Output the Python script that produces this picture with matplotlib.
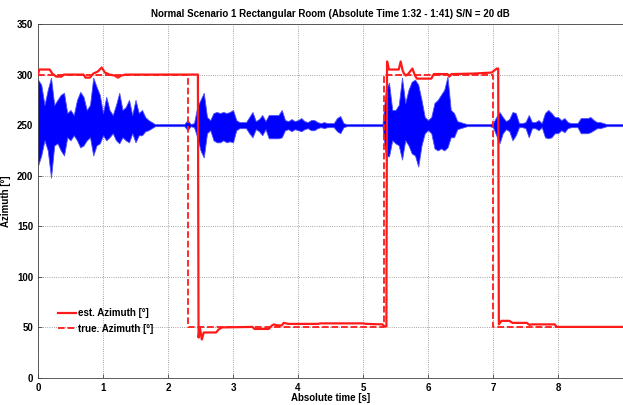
import numpy as np
import matplotlib
matplotlib.use("Agg")
import matplotlib.pyplot as plt

plt.rcParams['font.family'] = ['Liberation Sans', 'DejaVu Sans']
plt.rcParams['font.weight'] = 'bold'

wave_t = np.arange(181) * 0.05
wave_hi = [45, 40, 20, 35, 47, 20, 25, 30, 32, 12,
           15, 10, 25, 33, 28, 15, 20, 47, 38, 30,
           12, 28, 15, 10, 20, 32, 15, 18, 25, 10,
           25, 12, 15, 8, 5, 3, 1, 1, 1, 1,
           1, 1, 1, 1, 1, 1, 5, 1, 2, 18,
           25, 32, 8, 5, 12, 13, 12, 13, 12, 13,
           15, 5, 3, 3, 3, 8, 13, 4, 6, 10,
           4, 10, 10, 10, 10, 15, 5, 4, 6, 4,
           5, 7, 4, 3, 5, 5, 3, 2, 3, 2,
           2, 2, 7, 9, 2, 1, 1, 1, 1, 1,
           1, 1, 1, 1, 1, 1, 1, 35, 42, 15,
           15, 20, 47, 22, 35, 43, 45, 40, 25, 8,
           5, 8, 22, 25, 30, 35, 48, 15, 12, 4,
           3, 2, 1, 1, 1, 1, 1, 1, 1, 1,
           2, 8, 13, 8, 4, 6, 13, 12, 2, 2,
           3, 10, 3, 3, 5, 2, 12, 15, 12, 8,
           8, 5, 7, 3, 2, 2, 2, 7, 7, 7,
           8, 5, 3, 3, 2, 1, 1, 1, 1, 1,
           1]
wave_lo = [40, 30, 15, 25, 52, 20, 18, 25, 30, 12,
           15, 10, 15, 22, 20, 15, 12, 30, 20, 18,
           10, 15, 12, 8, 15, 18, 12, 15, 17, 8,
           17, 10, 10, 6, 5, 3, 1, 1, 1, 1,
           1, 1, 1, 1, 1, 1, 5, 1, 2, 12,
           25, 32, 8, 5, 15, 17, 17, 15, 17, 16,
           17, 5, 3, 3, 3, 8, 12, 4, 6, 10,
           4, 13, 13, 13, 13, 12, 5, 4, 6, 4,
           5, 6, 4, 3, 5, 5, 3, 2, 3, 2,
           2, 2, 6, 8, 2, 1, 1, 1, 1, 1,
           1, 1, 1, 1, 1, 1, 1, 30, 31, 15,
           18, 20, 34, 15, 20, 28, 30, 41, 20, 8,
           5, 8, 23, 25, 23, 25, 22, 12, 12, 4,
           3, 2, 1, 1, 1, 1, 1, 1, 1, 1,
           2, 10, 18, 8, 4, 6, 15, 10, 2, 2,
           3, 12, 3, 3, 5, 2, 12, 13, 12, 8,
           8, 5, 7, 3, 2, 2, 2, 8, 8, 8,
           7, 5, 3, 3, 2, 1, 1, 1, 1, 1,
           1]
wave_center = 250

# estimated azimuth
est_t = [0.00, 0.02, 0.18, 0.22, 0.28, 0.36, 0.40, 0.70, 0.73, 0.80, 0.85, 0.92,
         0.98, 1.03, 1.10, 1.18, 1.23, 1.28, 1.35, 2.00, 2.46, 2.47, 2.49, 2.52,
         2.55, 2.74, 2.78, 2.83, 3.30, 3.33, 3.55, 3.60, 3.63, 3.68, 3.75, 3.78,
         3.85, 4.30, 4.35, 5.00, 5.05, 5.30, 5.33, 5.36, 5.37, 5.40, 5.55, 5.58,
         5.61, 5.63, 5.66, 5.70, 5.76, 5.80, 5.83, 6.05, 6.09, 6.30, 6.33, 6.36,
         6.70, 6.98, 7.06, 7.08, 7.09, 7.13, 7.25, 7.30, 7.52, 7.56, 7.60, 7.95,
         7.98, 9.00]
est_az = [300, 305, 305, 301, 298, 298, 300, 300, 297, 297, 301, 303,
          307, 302, 300, 299, 297, 299, 300, 300, 300, 40, 50, 38,
          45, 45, 48, 50, 50.5, 48.5, 48.5, 52, 53, 52, 52, 54.5,
          53.5, 53.5, 54, 54, 53.5, 53, 51, 51, 313, 305, 305, 313,
          304, 301, 299, 301, 306, 299, 296, 296, 300.5, 300.5, 298, 300.5,
          301, 302, 306, 306, 53, 56.5, 56.5, 54.5, 54.5, 52.5, 53, 53,
          50.5, 50.5]

# true azimuth (steps)
true_t = [0, 2.30, 5.33, 7.00, 9.0]
true_az = [300, 50, 300, 50, 50]

fig = plt.figure(figsize=(6.23, 4.05), dpi=100)
ax = fig.add_axes([0.061, 0.0667, 0.939, 0.874])

hi = wave_center + np.array(wave_hi)
lo = wave_center - np.array(wave_lo)
ax.fill_between(wave_t, lo, hi, color='#0000ff', lw=0.6, edgecolor='#5050ff', zorder=2)
ax.plot(wave_t, np.full(len(wave_t), wave_center), color='#0000ff', lw=0.8, zorder=2)

ax.plot(est_t, est_az, color='#ff1a1a', lw=1.6, label='est. Azimuth [°]', zorder=3)
ax.plot(true_t, true_az, color='#ff1a1a', lw=1.3, ls='--', drawstyle='steps-post',
        label='true. Azimuth [°]', zorder=3)

ax.set_xlim(0, 9)
ax.set_ylim(0, 350)
ax.set_xticks(range(9))
ax.set_yticks(range(0, 351, 50))
ax.tick_params(direction='in', labelsize=7, length=3, width=0.6, color='#444444')
for lab in ax.get_xticklabels() + ax.get_yticklabels():
    lab.set_fontweight('bold')
for s in ax.spines.values():
    s.set_color('#444444')
    s.set_linewidth(0.6)
ax.grid(True, ls=':', color='#888888', lw=0.6)

ax.set_title('Normal Scenario 1 Rectangular Room (Absolute Time 1:32 - 1:41) S/N = 20 dB',
             fontsize=7, fontweight='bold', pad=5)
ax.set_xlabel('Absolute time [s]', fontsize=7, fontweight='bold', labelpad=0)
ax.set_ylabel('Azimuth [°]', fontsize=7, fontweight='bold', labelpad=4)

ax.legend(loc='lower left', bbox_to_anchor=(0.02, 0.1), frameon=False,
          handlelength=1.8, handletextpad=0.2, labelspacing=0.55,
          prop={'weight': 'bold', 'size': 7})

fig.savefig('out.png', dpi=100)
